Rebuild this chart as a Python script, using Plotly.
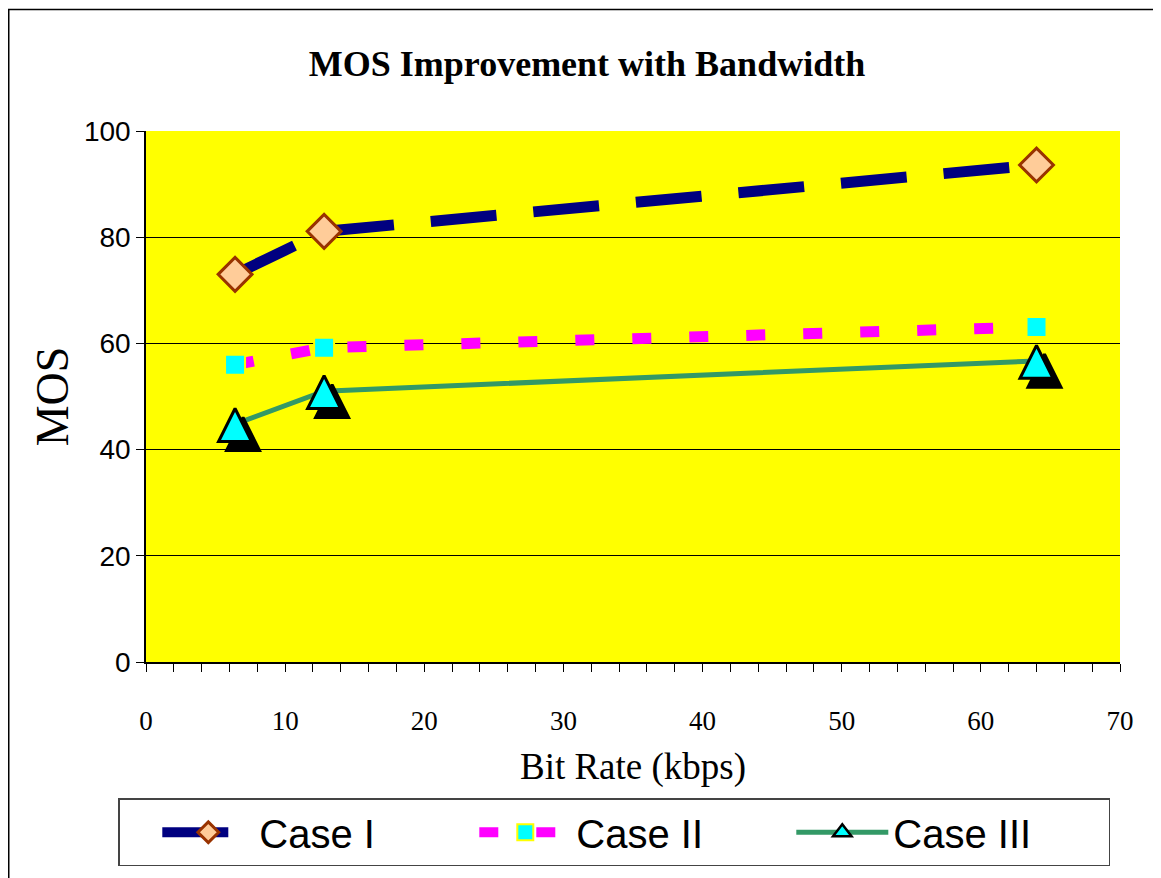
import plotly.graph_objects as go

bit_rate = [6.4, 12.8, 64]
case1 = [73.0, 81.1, 93.6]
case2 = [56.0, 59.2, 63.1]
case3 = [44.8, 51.0, 56.7]
series_names = ["Case I", "Case II", "Case III"]

# page body has an 8px margin, so the figure is sized/offset accordingly
W, H = 1153, 870
L, R, T, B = 138, 41, 123, 213
PW = W - L - R
PH = H - T - B
XR = [0, 70]
YR = [0, 100]

c1_line = dict(color="#000080", width=11, dash="66px,37px")
c1_marker = dict(symbol="diamond", size=26, color="#FFCC99",
                 line=dict(color="#993300", width=3))
c2_line = dict(color="#FF00FF", width=11, dash="19px,38px")
c2_marker = dict(symbol="square", size=20, color="#00FFFF",
                 line=dict(color="#FFFF00", width=2))
c3_line = dict(color="#339966", width=5)

fig = go.Figure()

fig.add_trace(go.Scatter(
    x=bit_rate, y=case1, name=series_names[0], mode="lines+markers",
    line=c1_line, marker=c1_marker,
))
fig.add_trace(go.Scatter(
    x=bit_rate, y=case2, name=series_names[1], mode="lines+markers",
    line=c2_line, marker=c2_marker,
))
# Case III line (main axes)
fig.add_trace(go.Scatter(
    x=bit_rate, y=case3, name=series_names[2], mode="lines",
    line=c3_line, showlegend=False,
))

# tall triangles: arrow-up symbol has its apex at the point, so the marker
# axes are shifted up by half the marker height
ARROW = 33
half_h = 0.95 * ARROW / 2
up = half_h * (YR[1] - YR[0]) / PH
sx = 8 * (XR[1] - XR[0]) / PW
sy = 9 * (YR[1] - YR[0]) / PH

fig.add_trace(go.Scatter(
    x=bit_rate, y=case3, mode="markers", showlegend=False, hoverinfo="skip",
    marker=dict(symbol="arrow-up", size=ARROW, color="black",
                line=dict(color="black", width=3)),
    xaxis="x2", yaxis="y2",
))
fig.add_trace(go.Scatter(
    x=bit_rate, y=case3, mode="markers", showlegend=False,
    name=series_names[2],
    marker=dict(symbol="arrow-up", size=ARROW, color="#00FFFF",
                line=dict(color="black", width=3)),
    xaxis="x3", yaxis="y3",
))
# legend entry for Case III
fig.add_trace(go.Scatter(
    x=[None], y=[None], name=series_names[2], mode="lines+markers",
    line=c3_line,
    marker=dict(symbol="triangle-up", size=26, color="#00FFFF",
                line=dict(color="black", width=2.5)),
))

serif = "Liberation Serif"
sans = "Liberation Sans"

fig.update_layout(
    width=W, height=H,
    margin=dict(l=L, r=R, t=T, b=B),
    paper_bgcolor="white",
    plot_bgcolor="#FFFF00",
    title=dict(text="<b>MOS Improvement with Bandwidth</b>",
               font=dict(family=serif, size=36, color="black"),
               x=(587 - 8) / W, xref="container", xanchor="center",
               y=1 - (63 - 8) / H, yref="container", yanchor="middle"),
    xaxis=dict(range=XR, dtick=10, tick0=0, showgrid=False, zeroline=False,
               showline=True, linecolor="black", linewidth=1.5,
               ticks="outside", ticklen=8, tickcolor="black", tickwidth=1,
               minor=dict(dtick=2, ticks="outside", ticklen=8, tickcolor="black",
                          tickwidth=1, showgrid=False),
               tickfont=dict(family=serif, size=27, color="black"),
               ticklabelstandoff=26,
               title=dict(text="Bit Rate (kbps)", standoff=18,
                          font=dict(family=serif, size=37, color="black"))),
    yaxis=dict(range=YR, dtick=20, showgrid=False, zeroline=False,
               showline=True, linecolor="black", linewidth=1.5,
               ticks="outside", ticklen=8, tickcolor="black", tickwidth=1,
               minor=dict(tickvals=[20, 40, 60, 80], showgrid=True,
                          gridcolor="black", gridwidth=1, ticks=""),
               tickfont=dict(family=sans, size=28, color="black"),
               ticklabelstandoff=0,
               title=dict(text="MOS", standoff=1,
                          font=dict(family=serif, size=46, color="black"))),
    xaxis2=dict(range=[XR[0] - sx, XR[1] - sx], overlaying="x", visible=False),
    yaxis2=dict(range=[YR[0] - up + sy, YR[1] - up + sy], overlaying="y",
                visible=False),
    xaxis3=dict(range=XR, overlaying="x", visible=False),
    yaxis3=dict(range=[YR[0] - up, YR[1] - up], overlaying="y", visible=False),
    legend=dict(orientation="h", x=(118 - 8 - L) / PW, xanchor="left",
                y=(PH + T - (802 - 8)) / PH, yanchor="top",
                bordercolor="#444444", borderwidth=1.5, bgcolor="white",
                itemwidth=92, entrywidth=210, entrywidthmode="pixels",
                font=dict(family=sans, size=40, color="black"),
                title=dict(text="&nbsp;&nbsp;&nbsp;&nbsp;&nbsp;", side="left",
                           font=dict(family=sans, size=20)),
                tracegroupgap=0),
    showlegend=True,
    shapes=[dict(type="rect", xref="paper", yref="paper",
                 x0=(0.75 - L) / PW, x1=(W + 20 - L) / PW,
                 y0=(PH + T - 0.75) / PH, y1=-(B + 20) / PH,
                 line=dict(color="black", width=1.5), layer="below")],
)

fig.write_html("out.html")
